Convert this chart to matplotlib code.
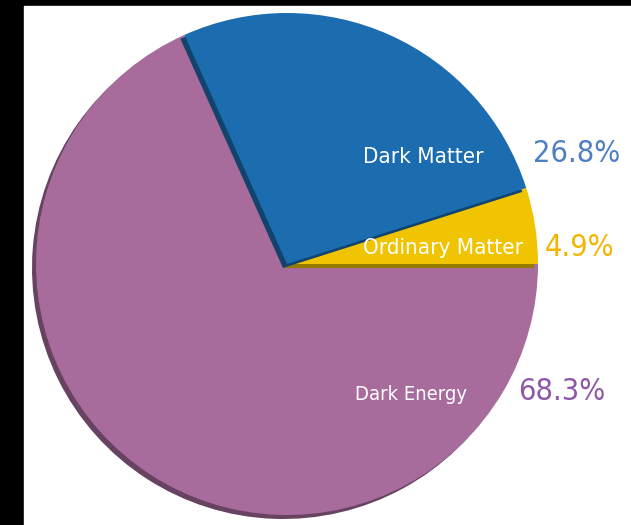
import matplotlib
matplotlib.use("Agg")
import matplotlib.pyplot as plt
import matplotlib.colors as mcolors

# composition of the universe, percent
components = ["Ordinary Matter", "Dark Matter", "Dark Energy"]
shares = [4.9, 26.8, 68.3]
colors = ["#f0c400", "#1c6cb0", "#a76c9c"]
pct_colors = ["#f2b600", "#4d7fc4", "#8e58a6"]
label_pos = [(443, 277), (423, 368), (411, 130)]
label_size = [16, 16, 14.5]
pct_pos = [(579, 278), (577, 371), (562, 134)]

W, H = 631, 525
fig = plt.figure(figsize=(W / 100, H / 100), dpi=100, facecolor="black")

# white card on the black background
fig.patches.append(plt.Rectangle((24 / W, 0), 1 - 24 / W, 519 / H,
                                 transform=fig.transFigure, color="white", zorder=-1))

ax = fig.add_axes([0, 0, 1, 1])

cx, cy, r = 287, 261, 251
off = 4

dark = [tuple(c * 0.62 for c in mcolors.to_rgb(col)) for col in colors]
shadow, _ = ax.pie(shares, colors=dark, startangle=0, radius=r,
                   center=(cx - off, cy - off), frame=True)
wedges, _ = ax.pie(shares, colors=colors, startangle=0, radius=r,
                   center=(cx, cy), frame=True)

# stack order: dark energy at the bottom, dark matter on top
order = {"Dark Energy": 1, "Ordinary Matter": 2, "Dark Matter": 3}
for name, s, w in zip(components, shadow, wedges):
    s.set_zorder(order[name] * 2)
    w.set_zorder(order[name] * 2 + 1)
    s.set_linewidth(0)
    w.set_linewidth(0)

ax.set_xlim(0, W)
ax.set_ylim(0, H)
ax.axis("off")

font = ["DejaVu Sans"]
for name, v, lp, ls, pp, pc in zip(components, shares, label_pos, label_size,
                                   pct_pos, pct_colors):
    ax.text(lp[0], lp[1], name, color="white", fontsize=ls, family=font,
            fontstretch="condensed", ha="center", va="center", zorder=10)
    ax.text(pp[0], pp[1], f"{v}%", color=pc, fontsize=22, family=font,
            fontstretch="condensed", ha="center", va="center", zorder=10)

fig.savefig("out.png", dpi=100, facecolor=fig.get_facecolor())
